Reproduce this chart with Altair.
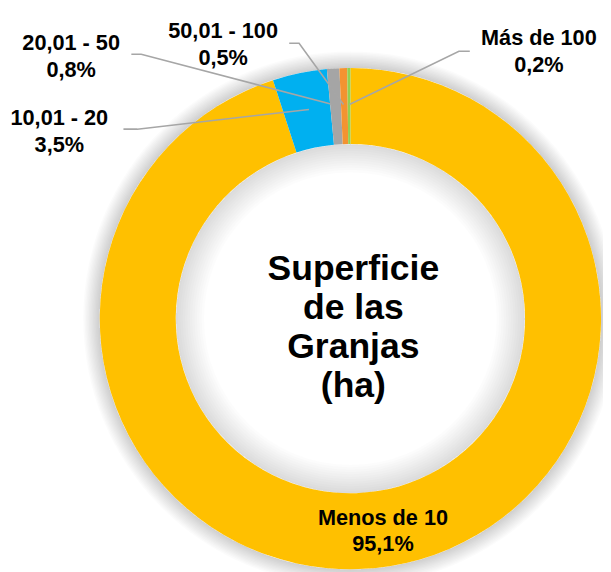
import altair as alt
import pandas as pd

# ---------------- data ----------------
categories = ["Menos de 10", "10,01 - 20", "20,01 - 50", "50,01 - 100", "Más de 100"]
shares = [95.1, 3.5, 0.8, 0.5, 0.2]
share_labels = ["95,1%", "3,5%", "0,8%", "0,5%", "0,2%"]
colors = ["#FFC000", "#00B0F0", "#A5A5A5", "#F39331", "#92D050"]
title_lines = ["Superficie", "de las", "Granjas", "(ha)"]

# ---------------- layout (page pixel coordinates) ----------------
OFF = 8
CX, CY = 355 - OFF, 319 - OFF
R_OUT, R_IN = 254, 177
label_x = [388, 60, 72, 226, 546]
label_y = [528, 123, 47, 35, 42]
leader_points = {
    "10,01 - 20": [(125, 127), (139, 127), (313, 107)],
    "20,01 - 50": [(133, 51), (143, 51), (337, 102)],
    "50,01 - 100": [(293, 40), (303, 40), (348, 102)],
    "Más de 100": [(476, 48), (465, 48), (354, 102)],
}
FONT = "Liberation Sans"

# ---------------- shadows ----------------
dummy = pd.DataFrame({"a": [0]})
shadow_layers = []
N = 12
for i in range(N):
    shadow_layers.append(
        alt.Chart(dummy).mark_arc(
            innerRadius=R_OUT, outerRadius=R_OUT + 1.4 * (i + 1),
            theta=0, theta2=6.2832, color="black", opacity=0.016
        ).encode(x=alt.value(CX), y=alt.value(CY))
    )
    shadow_layers.append(
        alt.Chart(dummy).mark_arc(
            innerRadius=R_IN - 2.4 * (i + 1), outerRadius=R_IN,
            theta=0, theta2=6.2832, color="black", opacity=0.013
        ).encode(x=alt.value(CX), y=alt.value(CY))
    )

# ---------------- donut ----------------
df = pd.DataFrame({"cat": categories, "share": shares, "idx": list(range(len(categories)))})
donut = alt.Chart(df).mark_arc(outerRadius=R_OUT, innerRadius=R_IN).encode(
    theta=alt.Theta("share:Q", stack=True),
    color=alt.Color("cat:N", scale=alt.Scale(domain=categories, range=colors), legend=None),
    order=alt.Order("idx:Q"),
    x=alt.value(CX),
    y=alt.value(CY),
)

# ---------------- leader lines ----------------
rows = []
for name, pts in leader_points.items():
    for k, (px, py) in enumerate(pts):
        rows.append({"name": name, "k": k, "px": px - OFF, "py": py - OFF})
lines = alt.Chart(pd.DataFrame(rows)).mark_line(color="#A6A6A6", strokeWidth=1.6).encode(
    x=alt.X("px:Q", scale=None, axis=None),
    y=alt.Y("py:Q", scale=None, axis=None),
    detail="name:N",
    order="k:Q",
)

# ---------------- labels ----------------
lab = pd.DataFrame({
    "txt": [c + "\n" + s for c, s in zip(categories, share_labels)],
    "lx": [v - OFF for v in label_x],
    "ly": [v - OFF for v in label_y],
})
labels = alt.Chart(lab).mark_text(
    lineBreak="\n", font=FONT, fontSize=22, fontWeight="bold", align="center",
    baseline="alphabetic", lineHeight=27, color="black"
).encode(
    x=alt.X("lx:Q", scale=None, axis=None),
    y=alt.Y("ly:Q", scale=None, axis=None),
    text="txt:N",
)

# ---------------- centre title ----------------
title_df = pd.DataFrame({"t": ["\n".join(title_lines)]})
title = alt.Chart(title_df).mark_text(
    lineBreak="\n", font=FONT, fontSize=36, fontWeight="bold", align="center",
    baseline="alphabetic", lineHeight=39.5, color="black"
).encode(
    x=alt.value(358 - OFF),
    y=alt.value(280 - OFF),
    text="t:N",
)

chart = alt.layer(*shadow_layers, donut, lines, labels, title).properties(
    width=603, height=564, padding=0, autosize=alt.AutoSizeParams(type="none"),
    background="white",
).configure_view(stroke=None)

chart.save("out.html", embed_options={"renderer": "svg", "actions": False})
